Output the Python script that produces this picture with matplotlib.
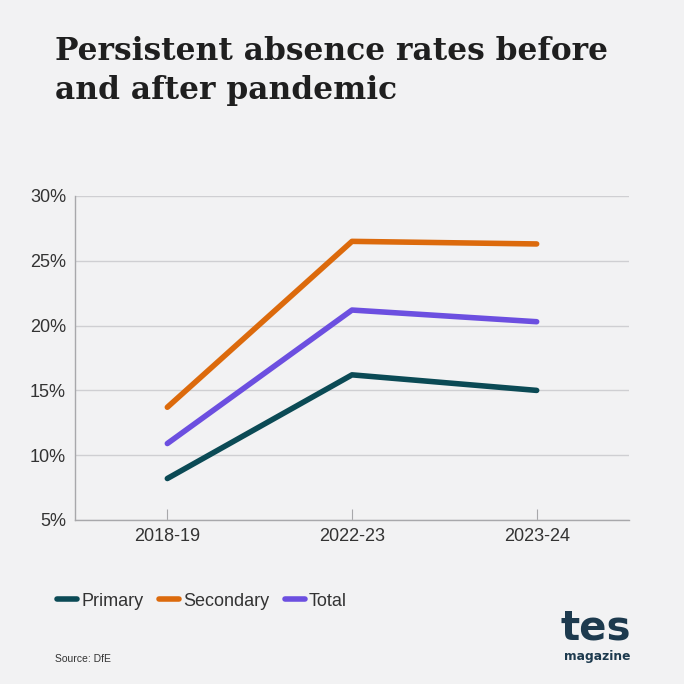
import matplotlib.pyplot as plt
from matplotlib.lines import Line2D

# data
years = ["2018-19", "2022-23", "2023-24"]
primary = [8.2, 16.2, 15.0]
secondary = [13.7, 26.5, 26.3]
total = [10.9, 21.2, 20.3]
series_names = ["Primary", "Secondary", "Total"]
yticks = [5, 10, 15, 20, 25, 30]

colors = ["#0b4a55", "#dc6a0c", "#6c4fe0"]
bg = "#f2f2f3"

plt.rcParams['font.family'] = ['Liberation Sans', 'DejaVu Sans']

fig = plt.figure(figsize=(6.84, 6.84), dpi=100, facecolor=bg)
ax = fig.add_axes([75 / 684, 1 - 520 / 684, (629 - 75) / 684, (520 - 196) / 684])
ax.set_facecolor(bg)

x = range(len(years))
for vals, c in zip([primary, secondary, total], colors):
    ax.plot(x, vals, color=c, lw=4, solid_capstyle='round', solid_joinstyle='round', zorder=3)

ax.set_xlim(-0.5, 2.5)
ax.set_ylim(5, 30)
ax.set_yticks(yticks)
ax.set_yticklabels([f"{v}%" for v in yticks])
ax.set_xticks(list(x))
ax.set_xticklabels(years)
ax.grid(axis='y', color='#cfcfd2', lw=1)
ax.set_axisbelow(True)
for s in ['top', 'right']:
    ax.spines[s].set_visible(False)
for s in ['left', 'bottom']:
    ax.spines[s].set_color('#a8a8ab')
    ax.spines[s].set_linewidth(1)
ax.tick_params(axis='y', length=0, pad=6.5, labelsize=13, labelcolor='#333333')
ax.tick_params(axis='x', direction='in', length=8, color='#a8a8ab', pad=6,
               labelsize=13, labelcolor='#333333')

# title
fig.text(55 / 684, 1 - 36 / 684, "Persistent absence rates before\nand after pandemic",
         family='DejaVu Serif', fontweight='bold', fontsize=22.5, color='#1f1f1f',
         va='top', ha='left', linespacing=1.32)

# legend
handles = [Line2D([0], [0], color=c, lw=4, solid_capstyle='round') for c in colors]
fig.legend(handles, series_names, loc='center left', bbox_to_anchor=(57 / 684, 1 - 601 / 684),
           ncol=3, frameon=False, fontsize=13, handlelength=1.1, handletextpad=0.25,
           columnspacing=0.85, labelcolor='#333333', borderpad=0, borderaxespad=0)

fig.text(55 / 684, 1 - 659 / 684, "Source: DfE", fontsize=7.5, color='#333333', va='center')

# logo
fig.text(596 / 684, 1 - 640 / 684, "tes", fontsize=29, fontweight='heavy', color='#1d3a4e',
         ha='center', va='baseline', family='DejaVu Sans')
fig.text(597 / 684, 1 - 660 / 684, "magazine", fontsize=8.8, fontweight='bold', color='#1d3a4e',
         ha='center', va='baseline', family='DejaVu Sans')

fig.savefig("out.png", dpi=100, facecolor=bg)
